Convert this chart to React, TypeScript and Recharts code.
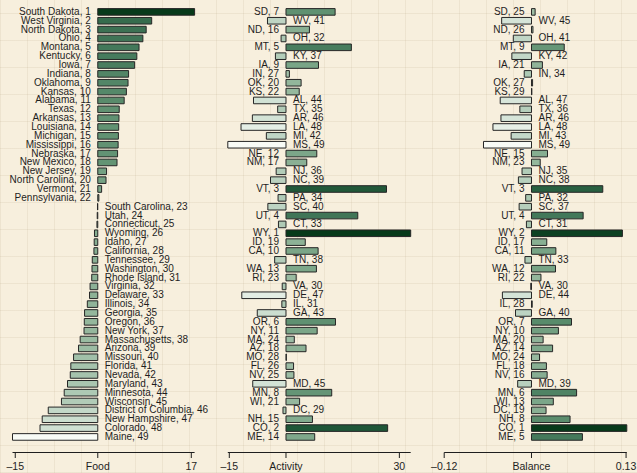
import { Bar, BarChart, Cell, LabelList, XAxis, YAxis } from "recharts";

// rows are ordered by food rank (1 = top)
const states = [
  "South Dakota", "West Virginia", "North Dakota", "Ohio", "Montana", "Kentucky", "Iowa",
  "Indiana", "Oklahoma", "Kansas", "Alabama", "Texas", "Arkansas", "Louisiana", "Michigan",
  "Mississippi", "Nebraska", "New Mexico", "New Jersey", "North Carolina", "Vermont",
  "Pennsylvania", "South Carolina", "Utah", "Connecticut", "Wyoming", "Idaho", "California",
  "Tennessee", "Washington", "Rhode Island", "Virginia", "Delaware", "Illinois", "Georgia",
  "Oregon", "New York", "Massachusetts", "Arizona", "Missouri", "Florida", "Nevada",
  "Maryland", "Minnesota", "Wisconsin", "District of Columbia", "New Hampshire", "Colorado", "Maine",
];
const abbrs = [
  "SD", "WV", "ND", "OH", "MT", "KY", "IA", "IN", "OK", "KS", "AL", "TX", "AR", "LA", "MI",
  "MS", "NE", "NM", "NJ", "NC", "VT", "PA", "SC", "UT", "CT", "WY", "ID", "CA", "TN", "WA",
  "RI", "VA", "DE", "IL", "GA", "OR", "NY", "MA", "AZ", "MO", "FL", "NV", "MD", "MN", "WI",
  "DC", "NH", "CO", "ME",
];
const food = [
  17.6, 9.8, 8.8, 8.2, 7.5, 7.1, 6.7, 5.6, 5.5, 5.2, 4.8, 3.9, 3.85, 3.8, 3.75, 3.7, 3.6,
  3.5, 1.6, 1.5, 0.7, 0.2, -0.05, -0.1, -0.15, -0.6, -0.65, -0.7, -1.0, -1.05, -1.1, -1.4,
  -1.5, -1.9, -2.4, -2.45, -2.5, -3.2, -3.5, -4.4, -4.9, -5.0, -5.5, -6.1, -6.6, -9.0,
  -10.1, -10.5, -15.5,
];
const activity = [
  13.0, -4.9, 6.2, -1.3, 17.3, -2.8, 8.6, 0.9, 4.0, 3.5, -8.6, -2.2, -8.9, -11.9, -5.2,
  -15.4, 8.15, 5.5, -2.6, -4.1, 26.6, -2.1, -4.8, 19.0, -2.0, 33.0, 5.1, 8.5, -3.0, 8.05,
  2.7, -1.0, -11.7, -1.1, -7.6, 13.1, 8.25, 2.2, 5.3, 0.1, 2.0, 2.1, -8.8, 12.1, 3.6,
  -0.8, 7.0, 26.9, 7.6,
];
const activityRank = [
  7, 41, 16, 32, 5, 37, 9, 27, 20, 22, 44, 35, 46, 48, 42, 49, 12, 17, 36, 39, 3, 34, 40,
  4, 33, 1, 19, 10, 38, 13, 23, 30, 47, 31, 43, 6, 11, 24, 18, 28, 26, 25, 45, 8, 21, 29,
  15, 2, 14,
];
const balance = [
  0.005, -0.041, 0.002, -0.025, 0.045, -0.027, 0.015, -0.01, 0.0015, 0.0005, -0.043,
  -0.016, -0.042, -0.053, -0.028, -0.066, 0.022, 0.012, -0.013, -0.018, 0.098, -0.008,
  -0.017, 0.071, -0.007, 0.125, 0.021, 0.0335, -0.009, 0.033, 0.013, -0.001, -0.04, 0.001,
  -0.022, 0.055, 0.037, 0.016, 0.029, 0.011, 0.0205, 0.0215, -0.019, 0.062, 0.03, 0.02,
  0.053, 0.131, 0.07,
];
const balanceRank = [
  25, 45, 26, 41, 9, 42, 21, 34, 27, 29, 47, 36, 46, 48, 43, 49, 15, 23, 35, 38, 3, 32, 37,
  4, 31, 2, 17, 11, 33, 12, 22, 30, 44, 28, 40, 7, 10, 20, 14, 24, 18, 16, 39, 6, 13, 19,
  8, 1, 5,
];

const foodTicks = [-15, 0, 17];
const activityTicks = [-15, 0, 30];
const balanceTicks = [-0.12, 0, 0.13];

const W = 637, H = 473;
const INK = "#1e1e1e";
const FONT = "'Liberation Sans', Arial, Helvetica, sans-serif";

// white -> dark green ramp, picked off the bars
const RAMP = [
  "#f8fbf6", "#dce9de", "#c2d7c7", "#a9c6b0", "#93b69b", "#78a486",
  "#5c8e6e", "#427759", "#2f6647", "#1a5233", "#073a1a",
];
const hex = (h: string) => [1, 3, 5].map((i) => parseInt(h.slice(i, i + 2), 16));
function shade(t: number) {
  const s = Math.max(0, Math.min(1, t)) * (RAMP.length - 1);
  const i = Math.min(Math.floor(s), RAMP.length - 2);
  const f = s - i;
  const a = hex(RAMP[i]), b = hex(RAMP[i + 1]);
  const c = a.map((v, k) => Math.round(v + (b[k] - v) * f));
  return `rgb(${c[0]},${c[1]},${c[2]})`;
}

interface Row { key: string; value: number; label: string }

const fmtTick = (name: string) => (v: number) =>
  v === 0 ? name : v < 0 ? `–${Math.abs(v)}` : `${v}`;

function Panel({ rows, name, ticks, left, right }:
  { rows: Row[]; name: string; ticks: number[]; left: number; right: number }) {
  const lo = ticks[0], hi = ticks[ticks.length - 1];
  const vals = rows.map((r) => r.value);
  const mn = Math.min(...vals), mx = Math.max(...vals);

  // label sits left of zero for positive bars, right of zero for negative ones
  const renderLabel = (p: any) => {
    const vb = p.viewBox ?? p;
    const r = rows[p.index];
    if (!r || vb == null) return null;
    const x0 = vb.x, x1 = vb.x + vb.width;
    const zero = r.value >= 0 ? Math.min(x0, x1) : Math.max(x0, x1);
    const cy = vb.y + vb.height / 2;
    const pos = r.value >= 0;
    return (
      <text x={pos ? zero - 7 : zero + 7} y={cy + 3} textAnchor={pos ? "end" : "start"}
            fontSize={10} fontFamily={FONT} fill={INK}>
        {r.label}
      </text>
    );
  };

  return (
    <div style={{ position: "absolute", left: 0, top: 0 }}>
      <BarChart width={W} height={H} data={rows} layout="vertical"
                margin={{ top: 7.6, right: W - right, bottom: 0, left }}>
        <XAxis type="number"
               domain={[(d: number) => Math.min(d, lo), (d: number) => Math.max(d, hi)]}
               ticks={ticks} interval={0} tickFormatter={fmtTick(name)}
               height={20.5} tickSize={5.5} tickMargin={5} stroke={INK}
               tick={{ fill: INK, fontSize: 10.5, fontFamily: FONT }} />
        <YAxis type="category" dataKey="key" hide padding={{ top: 0, bottom: 11 }} />
        <Bar dataKey="value" barSize={6.6} stroke="#262626" strokeWidth={1}
             isAnimationActive={false}>
          {rows.map((r) => (
            <Cell key={r.key} fill={shade((r.value - mn) / (mx - mn))} />
          ))}
          <LabelList dataKey="label" content={renderLabel} />
        </Bar>
      </BarChart>
    </div>
  );
}

export default function App() {
  const foodRows = states.map((s, i) => ({ key: abbrs[i], value: food[i], label: `${s}, ${i + 1}` }));
  const actRows = abbrs.map((a, i) => ({ key: a, value: activity[i], label: `${a}, ${activityRank[i]}` }));
  const balRows = abbrs.map((a, i) => ({ key: a, value: balance[i], label: `${a}, ${balanceRank[i]}` }));

  return (
    <div style={{
      position: "absolute", left: 0, top: 0, width: W, height: H, overflow: "hidden",
      backgroundColor: "#f7efdd",
      backgroundImage:
        "repeating-linear-gradient(0deg, rgba(170,150,115,0.13) 0 1px, transparent 1px 27px)," +
        "repeating-linear-gradient(90deg, rgba(170,150,115,0.13) 0 1px, transparent 1px 27px)",
    }}>
      <Panel rows={foodRows} name="Food" ticks={foodTicks} left={12.5} right={194.6} />
      <Panel rows={actRows} name="Activity" ticks={activityTicks} left={227.8} right={410.7} />
      <Panel rows={balRows} name="Balance" ticks={balanceTicks} left={444.2} right={626.8} />
    </div>
  );
}
